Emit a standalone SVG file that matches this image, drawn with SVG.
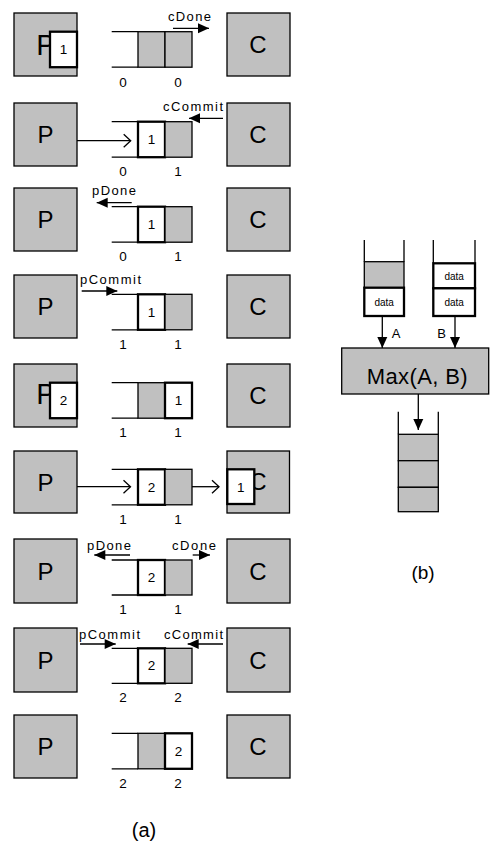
<svg xmlns="http://www.w3.org/2000/svg" width="490" height="850" viewBox="0 0 490 850">
<defs>
<style>
text{font-family:"Liberation Sans",Arial,sans-serif;fill:#000}
.box{fill:#c0c0c0;stroke:#000;stroke-width:1.3}
.cell{fill:#c0c0c0;stroke:#000;stroke-width:1.3}
.tok{fill:#fff;stroke:#000;stroke-width:2.3}
.ln{stroke:#000;stroke-width:1.3;fill:none}
.big{font-size:24px;text-anchor:middle}
.hid{font-size:29px;text-anchor:middle}
.num{font-size:13.5px;text-anchor:middle}
.lab{font-size:13px}
.dat{font-size:10px;text-anchor:middle}
.fa{stroke:#000;stroke-width:1.3;fill:none;marker-end:url(#fa)}
.oa{stroke:#000;stroke-width:1.3;fill:none;marker-end:url(#oa)}
</style>
<marker id="fa" markerUnits="userSpaceOnUse" markerWidth="12" markerHeight="11" refX="11" refY="5" orient="auto" overflow="visible"><path d="M0,0 L11,5 L0,10 z" fill="#000"/></marker>
<marker id="oa" markerUnits="userSpaceOnUse" markerWidth="10" markerHeight="16" refX="8" refY="7" orient="auto" overflow="visible"><path d="M1,0.5 L8,7 L1,13.5" fill="none" stroke="#000" stroke-width="1.3"/></marker>
</defs>

<!-- Row 1 -->
<g id="p1"><rect class="box" x="14" y="13" width="63" height="63"/><text class="hid" x="46" y="55">P</text><rect class="tok" x="50" y="31.7" width="27" height="35.5"/><text class="num" x="63.5" y="54">1</text></g>
<g id="q1"><path class="ln" d="M111.7,31.7 H138 M111.7,67.2 H138"/><rect class="cell" x="138" y="31.7" width="27" height="35.5"/><rect class="cell" x="165" y="31.7" width="27" height="35.5"/><text class="num" x="123" y="86.7">0</text><text class="num" x="178" y="86.7">0</text></g>
<g id="c1"><rect class="box" x="227" y="13" width="63" height="63"/><text class="big" x="258" y="53">C</text></g>

<!-- Row 2 -->
<g id="p2"><rect class="box" x="14" y="103" width="63" height="63"/><text class="big" x="45.5" y="143">P</text></g>
<g id="q2"><path class="ln" d="M111.7,121.7 H138 M111.7,157.2 H138"/><rect class="tok" x="138" y="121.7" width="27" height="35.5"/><text class="num" x="151.5" y="144">1</text><rect class="cell" x="165" y="121.7" width="27" height="35.5"/><text class="num" x="123" y="175.5">0</text><text class="num" x="178" y="175.5">1</text></g>
<g id="c2"><rect class="box" x="227" y="103" width="63" height="63"/><text class="big" x="258" y="143">C</text></g>

<!-- Row 3 -->
<g id="p3"><rect class="box" x="14" y="188" width="63" height="63"/><text class="big" x="45.5" y="228">P</text></g>
<g id="q3"><path class="ln" d="M111.7,206.7 H138 M111.7,242.2 H138"/><rect class="tok" x="138" y="206.7" width="27" height="35.5"/><text class="num" x="151.5" y="229">1</text><rect class="cell" x="165" y="206.7" width="27" height="35.5"/><text class="num" x="123" y="261">0</text><text class="num" x="178" y="261">1</text></g>
<g id="c3"><rect class="box" x="227" y="188" width="63" height="63"/><text class="big" x="258" y="228">C</text></g>

<!-- Row 4 -->
<g id="p4"><rect class="box" x="14" y="275" width="63" height="63"/><text class="big" x="45.5" y="315">P</text></g>
<g id="q4"><path class="ln" d="M111.7,294.3 H138 M111.7,329.8 H138"/><rect class="tok" x="138" y="294.3" width="27" height="35.5"/><text class="num" x="151.5" y="316.6">1</text><rect class="cell" x="165" y="294.3" width="27" height="35.5"/><text class="num" x="123" y="348.5">1</text><text class="num" x="178" y="348.5">1</text></g>
<g id="c4"><rect class="box" x="227" y="275" width="63" height="63"/><text class="big" x="258" y="315">C</text></g>

<!-- Row 5 -->
<g id="p5"><rect class="box" x="14" y="364" width="63" height="63"/><text class="hid" x="46" y="404">P</text><rect class="tok" x="50" y="382.7" width="27" height="35.5"/><text class="num" x="63.5" y="405">2</text></g>
<g id="q5"><path class="ln" d="M111.7,382.7 H138 M111.7,418.2 H138"/><rect class="cell" x="138" y="382.7" width="27" height="35.5"/><rect class="tok" x="165" y="382.7" width="27" height="35.5"/><text class="num" x="178.5" y="405">1</text><text class="num" x="123" y="437">1</text><text class="num" x="178" y="437">1</text></g>
<g id="c5"><rect class="box" x="227" y="364" width="63" height="63"/><text class="big" x="258" y="404">C</text></g>

<!-- Row 6 -->
<g id="p6"><rect class="box" x="14" y="451" width="63" height="62"/><text class="big" x="45.5" y="491">P</text></g>
<g id="q6"><path class="ln" d="M111.7,469.3 H138 M111.7,504.8 H138"/><rect class="tok" x="138" y="469.3" width="27" height="35.5"/><text class="num" x="151.5" y="491.6">2</text><rect class="cell" x="165" y="469.3" width="27" height="35.5"/><text class="num" x="123" y="523.5">1</text><text class="num" x="178" y="523.5">1</text></g>
<g id="c6"><rect class="box" x="227" y="451" width="62.5" height="62"/><text class="big" x="258" y="490">C</text><rect class="tok" x="227.3" y="469.3" width="27" height="34.7"/><text class="num" x="240.8" y="491.6">1</text></g>

<!-- Row 7 -->
<g id="p7"><rect class="box" x="14" y="539" width="63" height="64"/><text class="big" x="45.5" y="580">P</text></g>
<g id="q7"><path class="ln" d="M111.7,560 H138 M111.7,595 H138"/><rect class="tok" x="138" y="560" width="27" height="35"/><text class="num" x="151.5" y="582">2</text><rect class="cell" x="165" y="560" width="27" height="35"/><text class="num" x="123" y="614">1</text><text class="num" x="178" y="614">1</text></g>
<g id="c7"><rect class="box" x="227" y="539" width="63" height="64"/><text class="big" x="258" y="580">C</text></g>

<!-- Row 8 -->
<g id="p8"><rect class="box" x="14" y="628" width="63" height="64"/><text class="big" x="45.5" y="669">P</text></g>
<g id="q8"><path class="ln" d="M111.7,648.3 H138 M111.7,683.3 H138"/><rect class="tok" x="138" y="648.3" width="27" height="35"/><text class="num" x="151.5" y="670.3">2</text><rect class="cell" x="165" y="648.3" width="27" height="35"/><text class="num" x="123" y="702">2</text><text class="num" x="178" y="702">2</text></g>
<g id="c8"><rect class="box" x="227" y="628" width="63" height="64"/><text class="big" x="258" y="669">C</text></g>

<!-- Row 9 -->
<g id="p9"><rect class="box" x="14" y="715" width="63" height="63"/><text class="big" x="45.5" y="755">P</text></g>
<g id="q9"><path class="ln" d="M111.7,733.3 H138 M111.7,768.8 H138"/><rect class="cell" x="138" y="733.3" width="27" height="35.5"/><rect class="tok" x="165" y="733.3" width="27" height="35.5"/><text class="num" x="178.5" y="755.6">2</text><text class="num" x="123" y="787.5">2</text><text class="num" x="178" y="787.5">2</text></g>
<g id="c9"><rect class="box" x="227" y="715" width="63" height="63"/><text class="big" x="258" y="755">C</text></g>

<!-- connectors -->
<g id="connectors">
<path class="fa" d="M173,28.3 H209"/>
<path class="oa" d="M77,140.7 H130.7"/>
<path class="fa" d="M223,118.3 H189"/>
<path class="fa" d="M131.7,202.7 H96.7"/>
<path class="fa" d="M81.7,291 H117.3"/>
<path class="oa" d="M77,486.7 H130.5"/>
<path class="oa" d="M192,486.7 H219"/>
<path class="fa" d="M130,555 H94.3"/>
<path class="fa" d="M192.7,555 H210"/>
<path class="fa" d="M80,644 H115.7"/>
<path class="fa" d="M223,644 H187.7"/>
<path class="fa" d="M382.3,316 V348"/>
<path class="fa" d="M455,316 V348"/>
<path class="fa" d="M418.3,394 V430"/>
</g>

<g id="signals">
<text class="lab" x="168" y="20.7" textLength="43" lengthAdjust="spacing">cDone</text>
<text class="lab" x="163" y="111" textLength="60" lengthAdjust="spacing">cCommit</text>
<text class="lab" x="92" y="195" textLength="44" lengthAdjust="spacing">pDone</text>
<text class="lab" x="80" y="284" textLength="61" lengthAdjust="spacing">pCommit</text>
<text class="lab" x="87" y="549.5" textLength="44" lengthAdjust="spacing">pDone</text>
<text class="lab" x="172" y="549.5" textLength="44" lengthAdjust="spacing">cDone</text>
<text class="lab" x="79" y="638.5" textLength="61" lengthAdjust="spacing">pCommit</text>
<text class="lab" x="164" y="638.5" textLength="59" lengthAdjust="spacing">cCommit</text>
</g>

<text x="144" y="837" font-size="20" text-anchor="middle">(a)</text>

<!-- (b) -->
<g id="stackA"><path class="ln" d="M364.3,240 V261.7 M404,240 V261.7"/><rect class="cell" x="364.3" y="261.7" width="39.7" height="26"/><rect class="tok" x="364.3" y="287.7" width="39.7" height="28.3"/><text class="dat" x="384.2" y="305.5">data</text></g>
<g id="stackB"><path class="ln" d="M433.3,240 V263.3 M475,240 V263.3"/><rect class="tok" x="433.3" y="263.3" width="41.7" height="25"/><text class="dat" x="454.2" y="279.5">data</text><rect class="tok" x="433.3" y="288.3" width="41.7" height="27.7"/><text class="dat" x="454.2" y="305.5">data</text></g>
<text x="396" y="338.3" font-size="13" text-anchor="middle">A</text>
<text x="441.7" y="338.3" font-size="13" text-anchor="middle">B</text>
<g id="max"><rect class="box" x="341.7" y="348" width="147" height="46"/><text x="366.7" y="384" font-size="22" textLength="101" lengthAdjust="spacing">Max(A, B)</text></g>
<g id="stackOut"><path class="ln" d="M398.3,411.7 V434.3 M438.3,411.7 V434.3"/><rect class="cell" x="398.3" y="434.3" width="40" height="26.4"/><rect class="cell" x="398.3" y="460.7" width="40" height="26.6"/><rect class="cell" x="398.3" y="487.3" width="40" height="24.4"/></g>
<text x="423" y="579" font-size="19" text-anchor="middle">(b)</text>
</svg>
